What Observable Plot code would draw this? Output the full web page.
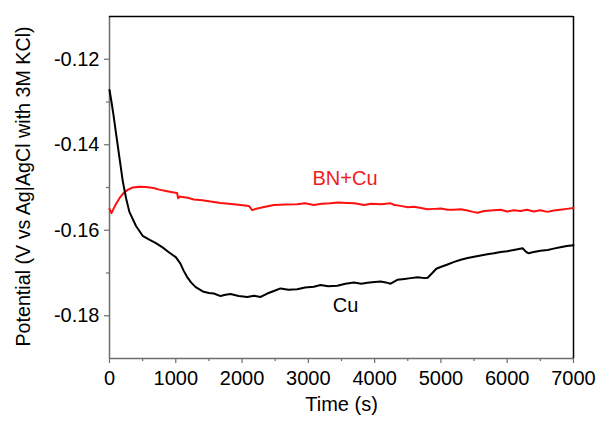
<!DOCTYPE html>
<html>
<head>
<meta charset="utf-8">
<script src="https://cdn.jsdelivr.net/npm/d3@7"></script>
<script src="https://cdn.jsdelivr.net/npm/@observablehq/plot@0.6"></script>
<style>
  html, body { margin: 0; padding: 0; background: #fff; }
</style>
</head>
<body>
<div id="chart"></div>
<script>
// Cu (black) series
const cuTime = [0,30,60,100,150,200,250,300,400,500,600,700,800,900,1000,1070,1120,1170,1230,1300,1420,1500,1575,1675,1750,1826,1950,2078,2180,2280,2380,2480,2580,2700,2832,2950,3083,3184,3300,3436,3560,3687,3800,3889,4000,4090,4170,4241,4342,4450,4543,4650,4750,4800,4870,4930,4995,5100,5200,5300,5402,5500,5600,5700,5800,5900,6000,6100,6232,6280,6323,6400,6500,6610,6700,6800,6900,7000];
const cuPotential = [-0.1272,-0.1300,-0.1330,-0.1375,-0.1430,-0.1485,-0.1525,-0.1557,-0.1590,-0.1613,-0.1622,-0.1630,-0.1640,-0.1652,-0.1663,-0.1678,-0.1695,-0.1709,-0.1722,-0.1733,-0.1744,-0.1747,-0.1748,-0.1754,-0.1751,-0.1749,-0.1754,-0.1756,-0.1753,-0.1756,-0.1748,-0.1742,-0.1736,-0.1739,-0.1738,-0.1734,-0.1732,-0.1728,-0.1731,-0.1730,-0.1725,-0.1722,-0.1725,-0.1723,-0.1721,-0.1720,-0.1722,-0.1725,-0.1716,-0.1714,-0.1712,-0.1710,-0.1712,-0.1711,-0.1700,-0.1690,-0.1686,-0.1680,-0.1674,-0.1669,-0.1665,-0.1662,-0.1659,-0.1656,-0.1654,-0.1651,-0.1649,-0.1646,-0.1642,-0.1650,-0.1654,-0.1651,-0.1648,-0.1646,-0.1643,-0.1640,-0.1637,-0.1635];

// BN+Cu (red) series
const bnTime = [0,30,60,100,150,211,280,350,450,550,664,750,850,950,1020,1035,1060,1100,1180,1273,1400,1524,1675,1800,1977,2102,2153,2229,2350,2480,2650,2832,2950,3083,3200,3335,3450,3587,3700,3838,3950,4100,4241,4300,4392,4500,4593,4700,4795,4900,5000,5100,5191,5300,5400,5480,5553,5650,5750,5900,6000,6100,6200,6300,6400,6500,6610,6700,6800,6900,7000];
const bnPotential = [-0.1550,-0.1560,-0.1550,-0.1538,-0.1525,-0.1513,-0.1505,-0.1500,-0.1498,-0.1499,-0.1501,-0.1505,-0.1508,-0.1511,-0.1513,-0.1525,-0.1521,-0.1522,-0.1524,-0.1528,-0.1530,-0.1533,-0.1536,-0.1538,-0.1541,-0.1543,-0.1553,-0.1549,-0.1545,-0.1541,-0.1540,-0.1539,-0.1537,-0.1541,-0.1538,-0.1537,-0.1535,-0.1536,-0.1537,-0.1541,-0.1538,-0.1539,-0.1537,-0.1541,-0.1543,-0.1546,-0.1545,-0.1548,-0.1551,-0.1550,-0.1549,-0.1552,-0.1552,-0.1551,-0.1554,-0.1557,-0.1559,-0.1555,-0.1554,-0.1552,-0.1556,-0.1553,-0.1555,-0.1552,-0.1556,-0.1553,-0.1557,-0.1554,-0.1552,-0.1550,-0.1548];

// Axis ticks
const xTicks = [0,1000,2000,3000,4000,5000,6000,7000];
const xMinorTicks = [500,1500,2500,3500,4500,5500,6500];
const yTicks = [-0.18,-0.16,-0.14,-0.12];
const yMinorTicks = [-0.17,-0.15,-0.13];

// Series labels
const labelText = ["BN+Cu","Cu"];
const labelTime = [3553,3561];
const labelPotential = [-0.1480,-0.1776];
const labelColor = ["#ee1c1c","#000000"];

const xLabel = "Time (s)";
const yLabel = "Potential (V vs Ag|AgCl with 3M KCl)";

const cu = cuTime.map((t,i) => ({t, v: cuPotential[i]}));
const bn = bnTime.map((t,i) => ({t, v: bnPotential[i]}));
const labels = labelText.map((s,i) => ({s, t: labelTime[i], v: labelPotential[i], c: labelColor[i]}));

const font = "'Liberation Sans', Arial, sans-serif";
const axisColor = "#6e6e6e";

const chart = Plot.plot({
  width: 597,
  height: 421,
  marginLeft: 109,
  marginRight: 24,
  marginTop: 16,
  marginBottom: 63,
  style: {fontFamily: font, fontSize: "20px", background: "#fff", color: "#000"},
  x: {domain: [0, 7000]},
  y: {domain: [-0.19, -0.11]},
  marks: [
    Plot.axisX({ticks: xTicks, tickSize: 5, tickPadding: 7, fontSize: 20, stroke: axisColor, strokeWidth: 1.2, fill: "#000", label: null, tickFormat: d => String(d)}),
    Plot.axisX({ticks: xMinorTicks, tickSize: 3, stroke: axisColor, strokeWidth: 1.2, text: null, label: null}),
    Plot.axisY({ticks: yTicks, tickSize: 5, tickPadding: 5, fontSize: 20, stroke: axisColor, strokeWidth: 1.2, fill: "#000", label: null, tickFormat: d => d.toFixed(2)}),
    Plot.axisY({ticks: yMinorTicks, tickSize: 3, stroke: axisColor, strokeWidth: 1.2, text: null, label: null}),
    Plot.ruleY([-0.19], {stroke: axisColor, strokeWidth: 1.5}),
    Plot.ruleX([0], {stroke: axisColor, strokeWidth: 1.5}),
    Plot.ruleY([-0.11], {stroke: "#000", strokeWidth: 1.5}),
    Plot.ruleX([7000], {stroke: "#000", strokeWidth: 1.5}),
    Plot.line(bn, {x: "t", y: "v", stroke: "#ff1010", strokeWidth: 2}),
    Plot.line(cu, {x: "t", y: "v", stroke: "#000", strokeWidth: 2}),
    Plot.text(labels, {x: "t", y: "v", text: "s", fill: "c", fontSize: 20}),
    Plot.text([xLabel], {frameAnchor: "bottom", dy: 52, fontSize: 20, fill: "#000"}),
    Plot.text([yLabel], {frameAnchor: "left", textAnchor: "middle", rotate: -90, dx: -86, dy: -1, fontSize: 19.7, fill: "#000"})
  ]
});
document.getElementById("chart").appendChild(chart);
</script>
</body>
</html>
